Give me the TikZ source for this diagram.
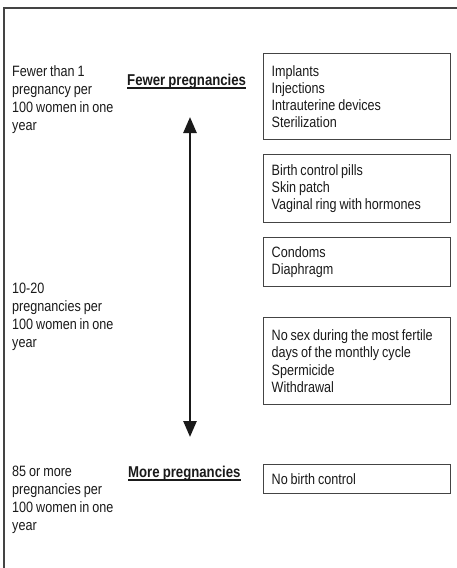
\documentclass[tikz,border=0pt]{standalone}
\usepackage{fontspec}
\setmainfont{Liberation Sans}[FakeStretch=0.84, WordSpace=0.84]
\usepackage{tikz}
\usetikzlibrary{arrows.meta}
\definecolor{ink}{HTML}{1A1A1A}
\definecolor{framegray}{HTML}{444444}
\tikzset{
  ratetext/.style={anchor=north west, inner sep=0pt, align=flush left, text=ink,
    font=\fontsize{15}{18}\selectfont},
  headtext/.style={anchor=base west, inner sep=0pt, text=ink,
    font=\fontsize{15.7}{18}\selectfont\bfseries},
  methodbox/.style={draw=framegray, line width=1.3pt, anchor=north west,
    inner xsep=8pt, inner ysep=0pt, text width=171pt, minimum width=187pt,
    align=flush left, text=ink, font=\fontsize{15}{17.2}\selectfont,
    execute at begin node={\hyphenpenalty=10000}},
  uline/.style={draw=ink, line width=1.2pt},
}

\begin{document}
\begin{tikzpicture}[x=1pt,y=-1pt]
\useasboundingbox (0,0) rectangle (457,568);
\draw[framegray, line width=1.3pt] (4,568) -- (4,8) -- (457,8);

% rates on the left
\node[ratetext] (hi) at (12,65) {Fewer than 1\\pregnancy per\\100 women in one\\year};
\node[ratetext] (mid) at (12,283) {10-20\\pregnancies per\\100 women in one\\year};
\node[ratetext] (lo) at (12,466) {85 or more\\pregnancies per\\100 women in one\\year};

% headings
\node[headtext] (fewer) at (127,85) {Fewer pregnancies};
\node[headtext] (more) at (128,477) {More pregnancies};
\draw[uline] ([yshift=-3pt]fewer.base west) -- ([yshift=-3pt]fewer.base east);
\draw[uline] ([yshift=-3pt]more.base west) -- ([yshift=-3pt]more.base east);

\coordinate (up) at (190,117);
\coordinate (down) at (190,437);
\draw[ink, line width=2.6pt, {Triangle[width=13pt,length=16pt]}-{Triangle[width=13pt,length=16pt]}] (up) -- (down);

% methods
\node[methodbox, minimum height=86pt] (m1) at (263,53) {Implants\\Injections\\Intrauterine devices\\Sterilization};
\node[methodbox, minimum height=68pt] (m2) at (263,154) {Birth control pills\\Skin patch\\Vaginal ring with hormones};
\node[methodbox, minimum height=49pt] (m3) at (263,237) {Condoms\\Diaphragm};
\node[methodbox, minimum height=87pt] (m4) at (263,317) {No sex during the most fertile\\days of the monthly cycle\\Spermicide\\Withdrawal};
\node[methodbox, minimum height=29pt] (m5) at (263,464) {No birth control};
\end{tikzpicture}
\end{document}
